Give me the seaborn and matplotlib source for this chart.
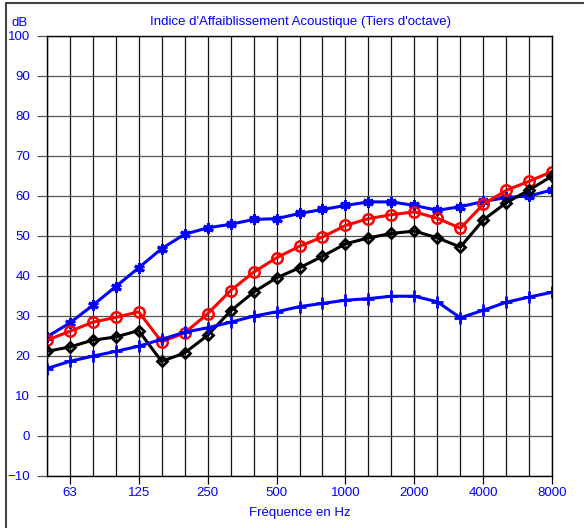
import matplotlib
matplotlib.use("Agg")
import matplotlib.pyplot as plt
import numpy as np
import pandas as pd
import seaborn as sns
from matplotlib.lines import Line2D

# bandes de tiers d'octave (Hz)
bandes = ["50", "63", "80", "100", "125", "160", "200", "250", "315", "400", "500", "630",
          "800", "1000", "1250", "1600", "2000", "2500", "3150", "4000", "5000", "6300", "8000"]
labels_x = ["63", "125", "250", "500", "1000", "2000", "4000", "8000"]

serie_etoile = [24.7, 28.2, 32.6, 37.3, 42.0, 46.8, 50.4, 52.0, 52.9, 54.1, 54.3, 55.6,
                56.6, 57.6, 58.5, 58.5, 57.6, 56.4, 57.3, 58.6, 59.6, 60.0, 61.5]
serie_rouge = [23.9, 26.1, 28.4, 29.6, 31.0, 23.5, 25.7, 30.5, 36.3, 40.9, 44.5, 47.4,
               49.7, 52.6, 54.3, 55.3, 56.0, 54.4, 51.9, 57.9, 61.4, 63.7, 66.1]
serie_noire = [21.1, 22.2, 23.9, 24.7, 26.3, 18.6, 20.7, 25.1, 31.2, 35.9, 39.5, 42.0,
               44.9, 48.0, 49.5, 50.6, 51.2, 49.5, 47.2, 54.0, 58.3, 61.5, 65.0]
serie_plus = [16.8, 18.6, 19.9, 21.1, 22.4, 24.1, 25.9, 27.0, 28.4, 29.9, 31.0, 32.3,
              33.1, 33.9, 34.3, 34.9, 34.9, 33.5, 29.5, 31.4, 33.4, 34.7, 35.9]

df = pd.DataFrame({"bande": bandes, "idx": np.arange(len(bandes)),
                   "etoile": serie_etoile, "rouge": serie_rouge,
                   "noire": serie_noire, "plus": serie_plus})

sns.set_style("white")
plt.rcParams["font.family"] = ["Liberation Sans", "DejaVu Sans"]

bleu = "#0000ff"
fs = 9.5
fig = plt.figure(figsize=(5.84, 5.28), dpi=100)
ax = fig.add_axes([46.7 / 584, 52.3 / 528, 505.6 / 584, 439.7 / 528])

lw = 2.2
sns.lineplot(data=df, x="idx", y="etoile", ax=ax, color=bleu, lw=lw, marker=(6, 2, 0),
             markersize=7.5, markeredgecolor=bleu, markeredgewidth=2.2)
sns.lineplot(data=df, x="idx", y="rouge", ax=ax, color="red", lw=lw, marker="o",
             markersize=7.5, markerfacecolor="none", markeredgecolor="red", markeredgewidth=1.8)
sns.lineplot(data=df, x="idx", y="noire", ax=ax, color="black", lw=lw, marker="D",
             markersize=5.5, markerfacecolor="none", markeredgecolor="black", markeredgewidth=2.0)
sns.lineplot(data=df, x="idx", y="plus", ax=ax, color=bleu, lw=lw, marker="+",
             markersize=8, markeredgecolor=bleu, markeredgewidth=2.0)

ax.set_xlim(0, len(bandes) - 1)
ax.set_ylim(-10, 100)

# grille : toutes les bandes en vertical, tous les 10 dB en horizontal
ax.set_xticks(df["idx"], minor=True)
ax.set_xticks([bandes.index(b) for b in labels_x])
ax.set_xticklabels(labels_x)
ax.set_yticks(np.arange(-10, 101, 10))
ax.grid(True, which="both", axis="x", color="#111111", lw=0.9)
ax.grid(True, which="major", axis="y", color="#555555", lw=0.9)
ax.set_axisbelow(True)

ax.tick_params(axis="x", which="major", direction="out", length=6, width=0.9, color="black",
               labelcolor=bleu, labelsize=fs, pad=2, bottom=True)
ax.tick_params(axis="x", which="minor", length=0)
ax.tick_params(axis="y", direction="out", length=7, width=0.9, color="#555555",
               labelcolor=bleu, labelsize=fs, pad=5, left=True)

for s in ax.spines.values():
    s.set_color("black")
    s.set_linewidth(1.0)

ax.set_xlabel("Fréquence en Hz", color=bleu, fontsize=fs, labelpad=6)
ax.set_ylabel("")
fig.text(300 / 584, 1 - 22 / 528, "Indice d'Affaiblissement Acoustique (Tiers d'octave)",
         color=bleu, fontsize=fs, ha="center", va="center")
fig.text(12 / 584, 1 - 23 / 528, "dB", color=bleu, fontsize=fs, ha="left", va="center")

# cadre autour de l'image (gauche et haut)
fig.add_artist(Line2D([5.5 / 584, 5.5 / 584], [0, 1 - 3 / 528], transform=fig.transFigure,
                      color="#444444", lw=1.5))
fig.add_artist(Line2D([5.5 / 584, 1], [1 - 3 / 528, 1 - 3 / 528], transform=fig.transFigure,
                      color="#444444", lw=1.5))

fig.savefig("out.png", dpi=100)
